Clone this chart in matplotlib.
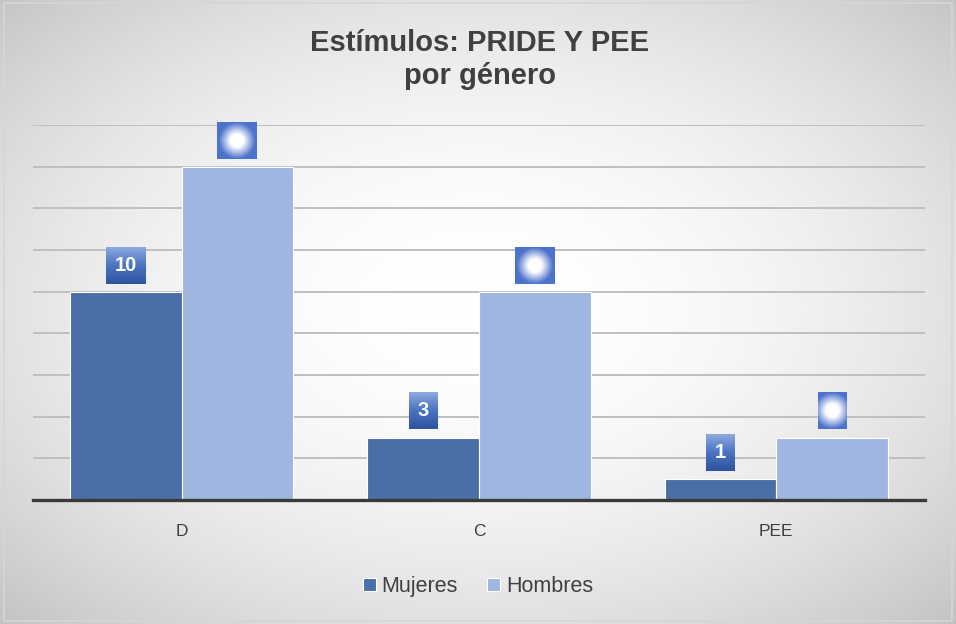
import numpy as np
import matplotlib
matplotlib.use("Agg")
import matplotlib.pyplot as plt
from matplotlib.offsetbox import OffsetImage, AnnotationBbox
from matplotlib.patches import Rectangle

# ---- Data -------------------------------------------------------------------
categories = ["D", "C", "PEE"]
mujeres = [10, 3, 1]
hombres = [16, 10, 3]
series_names = ["Mujeres", "Hombres"]
title = "Estímulos: PRIDE Y PEE\npor género"

c_muj = "#4a6ea8"
c_hom = "#9fb6e0"

fig = plt.figure(figsize=(9.56, 6.24), dpi=100)

# ---- Background (radial grey gradient) -------------------------------------
bg = fig.add_axes([0, 0, 1, 1], zorder=-10)
yy, xx = np.mgrid[-1:1:300j, -1:1:460j]
r2 = ((xx - 0.0) ** 2 + (yy + 0.02) ** 2)
val = np.clip(1 - 0.115 * r2, 0, 1)
bg.imshow(np.dstack([val, val, val]), aspect="auto", extent=[0, 1, 0, 1])
bg.add_patch(Rectangle((0.004, 0.005), 0.992, 0.99, fill=False,
                       ec="#d6d6d6", lw=1.2, transform=bg.transAxes))
bg.set_axis_off()

# ---- Bars --------------------------------------------------------------------
ax = fig.add_axes([0.0345, 0.1987, 0.9331, 0.601])
ax.patch.set_alpha(0)
x = np.arange(len(categories))
w = 0.375
b1 = ax.bar(x - w / 2, mujeres, w, color=c_muj, edgecolor="white", lw=0.8,
            label=series_names[0], zorder=3)
b2 = ax.bar(x + w / 2, hombres, w, color=c_hom, edgecolor="white", lw=0.8,
            label=series_names[1], zorder=3)

ax.set_xlim(-0.5, 2.5)
ax.set_ylim(0, 18)
ax.set_yticks(np.arange(0, 19, 2))
ax.yaxis.grid(True, color="#bfbfbf", lw=1.4, zorder=0)
ax.tick_params(axis="y", left=False, labelleft=False)
ax.tick_params(axis="x", bottom=False, labelsize=12.5, colors="#404040", pad=14)
ax.set_xticks(x)
ax.set_xticklabels(categories, fontfamily="Liberation Sans")
for s in ["top", "right", "left"]:
    ax.spines[s].set_visible(False)
ax.spines["bottom"].set_color("#3a3a3a")
ax.spines["bottom"].set_linewidth(2.4)
ax.spines["bottom"].set_zorder(4)

# ---- Data label boxes --------------------------------------------------------
BH = 37


def grad_img(bw):
    gy = np.linspace(0, 1, BH)[:, None, None] * np.ones((1, bw, 1))
    top = np.array([0.55, 0.66, 0.87])
    mid = np.array([0.29, 0.45, 0.76])
    bot = np.array([0.18, 0.33, 0.62])
    g = np.where(gy < 0.5, top * (1 - gy * 2) + mid * gy * 2,
                 mid * (2 - gy * 2) + bot * (gy * 2 - 1))
    return np.dstack([g, np.ones((BH, bw))])


def glow_img(bw):
    yy2, xx2 = np.mgrid[0:BH, 0:bw]
    rr = np.hypot(xx2 - (bw - 1) / 2, yy2 - (BH - 1) / 2) / 14.5
    mix = np.clip((rr - 0.45) / 0.8, 0, 1)[..., None]
    edge = np.array([0.30, 0.45, 0.80])
    g = np.ones((BH, bw, 3)) * (1 - mix) + edge * mix
    return np.dstack([g, np.ones((BH, bw))])


def add_box(xpos, val, img, text=None):
    ab = AnnotationBbox(OffsetImage(img, zoom=0.72), (xpos, val),
                        xybox=(0, 5.8), boxcoords="offset points",
                        box_alignment=(0.5, 0), frameon=False, pad=0, zorder=5)
    ax.add_artist(ab)
    if text is not None:
        ax.annotate(text, (xpos, val), xytext=(0, 5.8 + BH * 0.72 / 2),
                    textcoords="offset points", ha="center", va="center",
                    color="white", fontsize=14.5, fontweight="bold",
                    fontfamily="Liberation Sans", zorder=6)


for xi, v in zip(x - w / 2, mujeres):
    add_box(xi, v, grad_img(40 if v >= 10 else 29), str(v))
for xi, v in zip(x + w / 2, hombres):
    add_box(xi, v, glow_img(40 if v >= 10 else 29))

# ---- Title & legend ----------------------------------------------------------
fig.text(0.502, 0.905, title, ha="center", va="center", fontsize=21,
         fontweight="bold", color="#404040", fontfamily="Liberation Sans",
         linespacing=1.24)
fig.legend(handles=[b1, b2], labels=series_names, loc="center",
           bbox_to_anchor=(0.5, 0.06), ncol=2, frameon=False,
           handlelength=0.6, handleheight=0.6,
           handletextpad=0.28, columnspacing=1.35, labelcolor="#404040",
           prop={"family": "Liberation Sans", "size": 15.5})

fig.savefig("out.png", dpi=100)
